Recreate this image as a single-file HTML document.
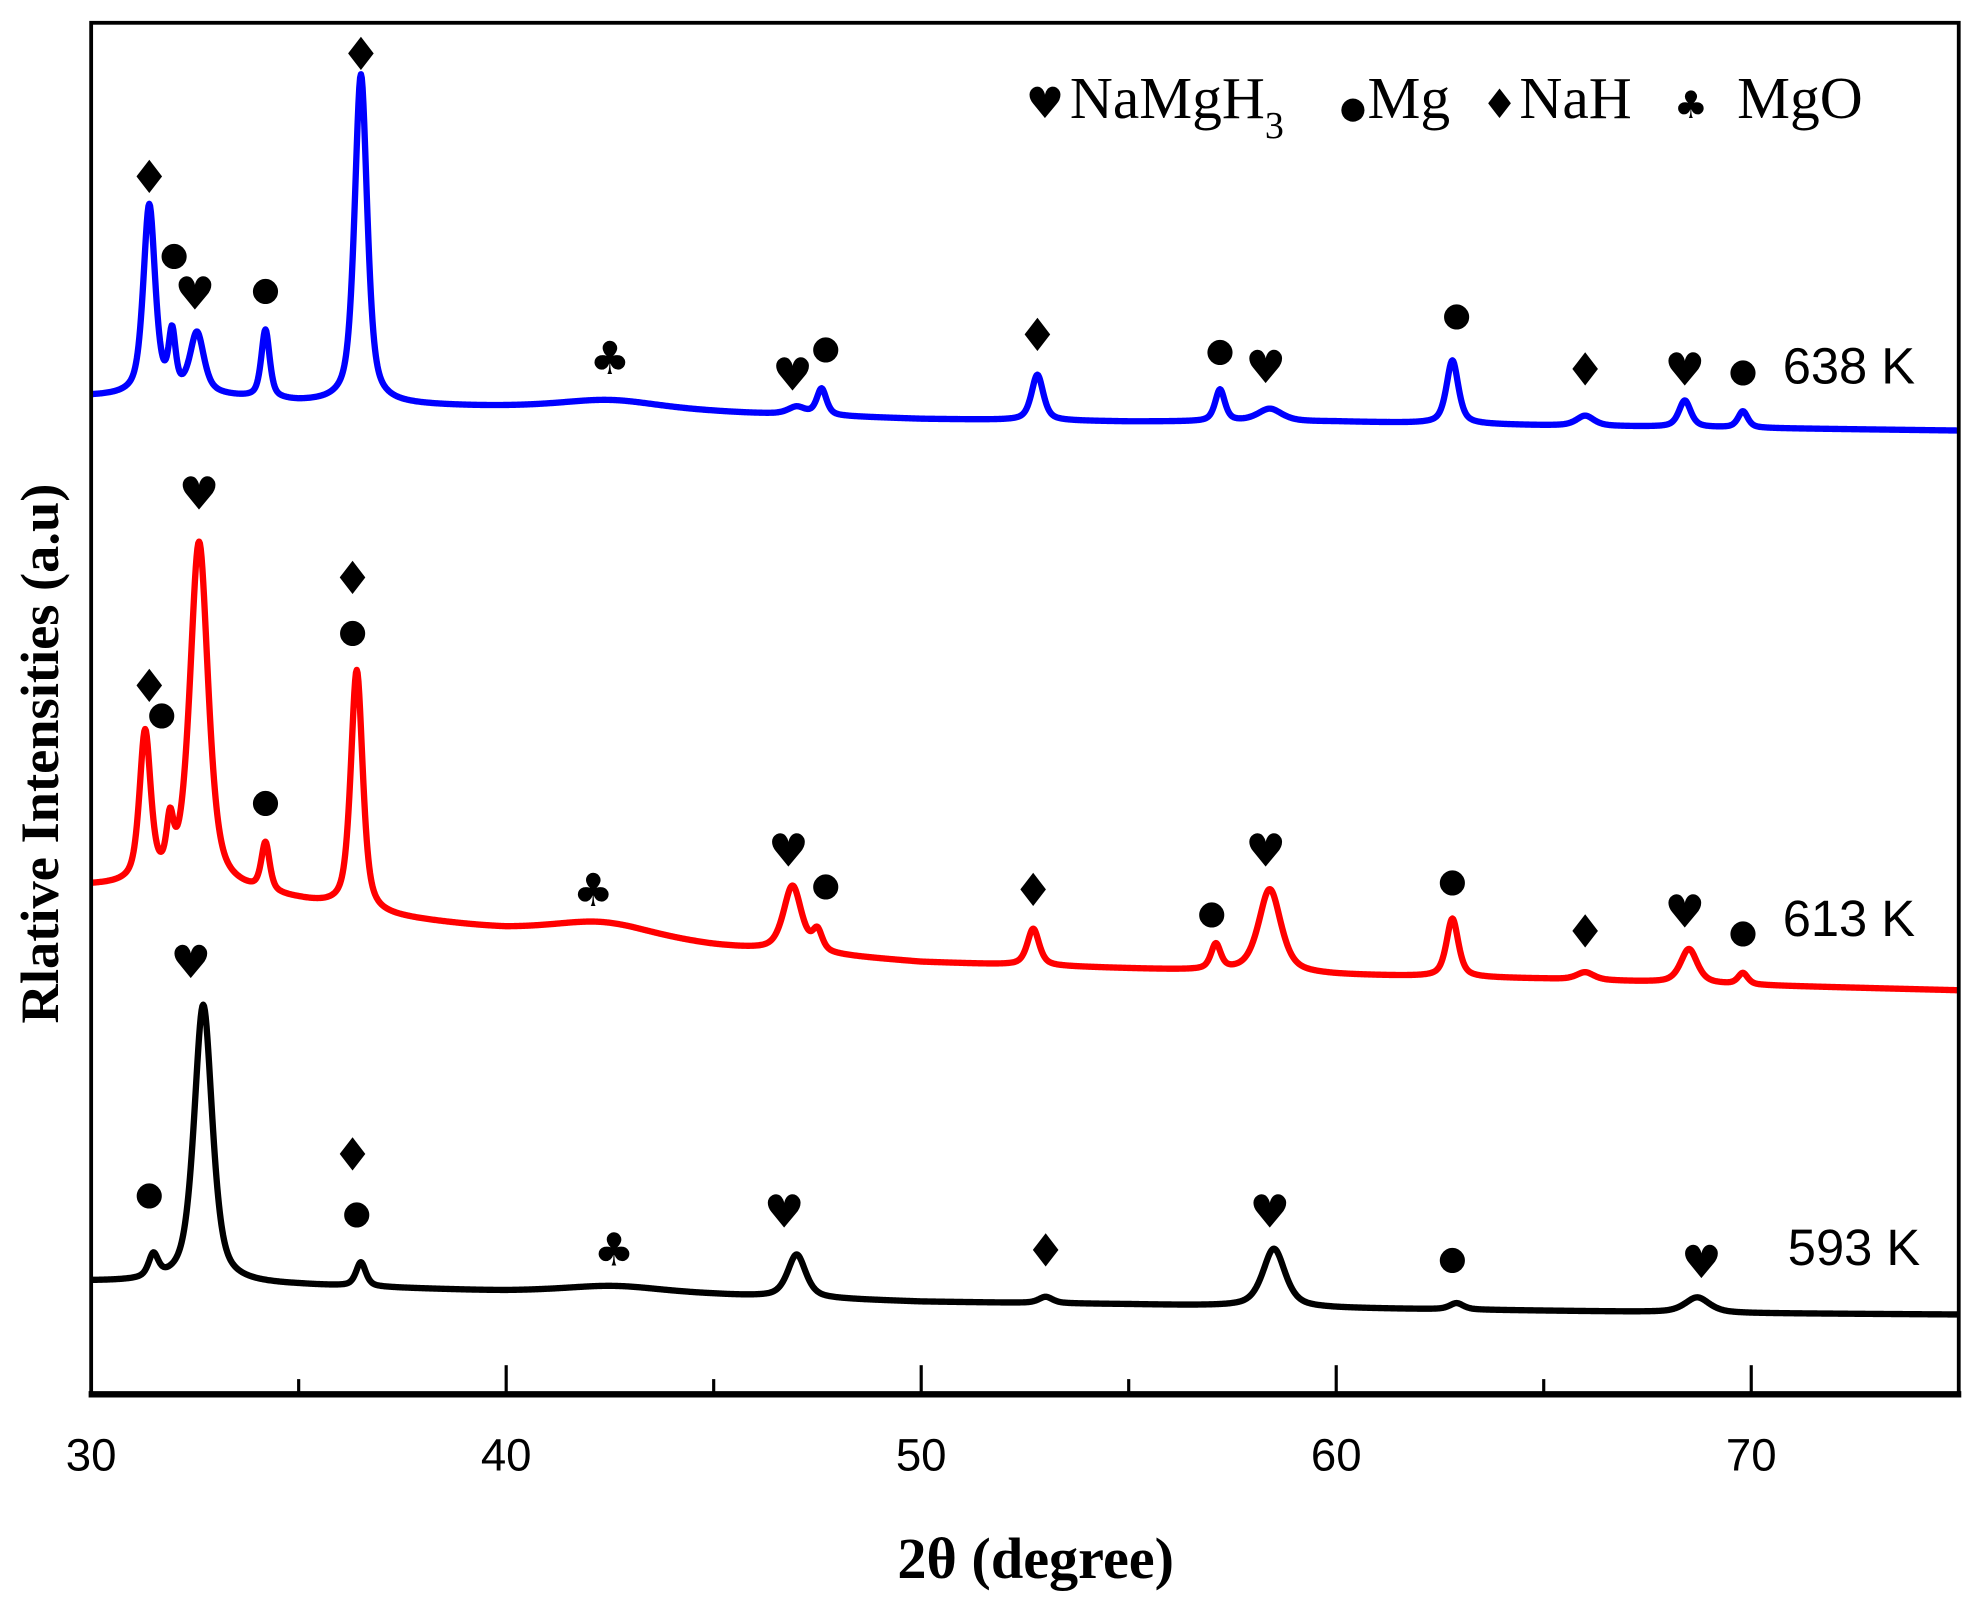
<!DOCTYPE html>
<html><head><meta charset="utf-8"><style>
html,body{margin:0;padding:0;background:#fff;}
svg{display:block;}
</style></head><body>
<svg id="chart" width="1979" height="1602" viewBox="0 0 1563 1265" preserveAspectRatio="none" xmlns="http://www.w3.org/2000/svg">
<g id="plot"></g>
<rect x="72" y="18" width="1475" height="1083" fill="none" stroke="#000" stroke-width="3"/>
<line x1="70" y1="1101" x2="1549" y2="1101" stroke="#000" stroke-width="5"/>
<g id="xticks"></g>
<text x="818" y="1246" text-anchor="middle" font-family="Liberation Serif, serif" font-weight="bold" font-size="46">2θ (degree)</text>
<text transform="translate(46,595) rotate(-90)" text-anchor="middle" font-family="Liberation Serif, serif" font-weight="bold" font-size="43">Rlative Intensities (a.u)</text>
<g font-family="Liberation Serif, DejaVu Sans, serif" font-size="47">
<text x="810" y="93"><tspan font-family="DejaVu Sans" font-size="34">♥</tspan><tspan x="845">NaMgH</tspan><tspan font-size="30" dy="16">3</tspan></text>
<text x="1058" y="93"><tspan font-family="DejaVu Sans" font-size="24">●</tspan><tspan x="1080">Mg</tspan></text>
<text x="1170" y="93"><tspan font-family="DejaVu Sans" font-size="32">♦</tspan><tspan x="1200">NaH</tspan></text>
<text x="1322" y="93"><tspan font-family="DejaVu Sans" font-size="30">♣</tspan><tspan x="1372">MgO</tspan></text>
</g>
<g font-family="Liberation Sans, sans-serif" font-size="40">
<text x="1408" y="303">638 K</text>
<text x="1408" y="739">613 K</text>
<text x="1412" y="999">593 K</text>
</g>
<g id="marks" font-family="DejaVu Sans, sans-serif"></g>
</svg>
<script>
// x tick data
const xTicks=[30,40,50,60,70];
const xMinor=[35,45,55,65];
// baselines: [2theta, intensity] (intensity = height above axis, display units)
const blueBaseX=[30,33,35,40,45,50,55,60,65,70,75];
const blueBaseY=[790,790,785,781,777,772,770,770,767,765,763];
const bluePeakPos=[31.4,31.95,32.55,34.2,36.5,42.5,47.0,47.6,52.8,57.2,58.4,62.8,66.0,68.4,69.8];
const bluePeakH=[150,45,48,54,260,8,6,21,36,25,10,50,8,21,13];
const bluePeakW=[0.17,0.1,0.2,0.12,0.18,1.5,0.25,0.14,0.17,0.14,0.35,0.17,0.25,0.17,0.14];
const redBaseX=[30,33,35,37,40,43,45,50,55,60,65,70,75];
const redBaseY=[403,401,391,379,368,361,355,343,338,333,330,325,321];
const redPeakPos=[31.3,31.9,32.6,34.2,36.4,42.3,46.9,47.5,52.7,57.1,58.4,62.8,66.0,68.5,69.8];
const redPeakH=[118,38,272,38,190,12,52,16,29,20,66,46,6,27,9];
const redPeakW=[0.16,0.1,0.26,0.12,0.17,1.5,0.26,0.14,0.17,0.14,0.32,0.17,0.25,0.24,0.14];
const blackBaseX=[30,35,40,45,50,55,60,65,70,75];
const blackBaseY=[91,88,83,80,75,73,70,68,66,65];
const blackPeakPos=[31.5,32.7,36.5,42.6,47.0,53.0,58.5,62.9,68.7];
const blackPeakH=[18,220,19,6,34,5,46,5,12];
const blackPeakW=[0.14,0.26,0.14,1.5,0.26,0.2,0.32,0.2,0.35];
// markers: symbol, 2theta, intensity level
const markSym=['♦','●','♥','●','♦','♣','♥','●','♦','●','♥','●','♦','♥','●',
 '♦','●','♥','●','♦','●','♣','♥','●','♦','●','♥','●','♦','♥','●',
 '●','♥','♦','●','♣','♥','♦','♥','●','♥'];
const markX=[31.4,32.0,32.5,34.2,36.5,42.5,46.9,47.7,52.8,57.2,58.3,62.9,66.0,68.4,69.8,
 31.4,31.7,32.6,34.2,36.3,36.3,42.1,46.8,47.7,52.7,57.0,58.3,62.8,66.0,68.4,69.8,
 31.4,32.4,36.3,36.4,42.6,46.7,53.0,58.4,62.8,68.8];
const markY=[963,903,871,875,1060,820,807,829,838,827,813,855,811,811,811,
 561,540,713,471,646,605,400,431,405,400,383,431,408,367,383,368,
 161,343,191,146,116,146,115,146,110,106];

const NS='http://www.w3.org/2000/svg';
const X0=30,X1=75,PX0=72,PX1=1547,AXY=1103;
function xs(v){return PX0+(v-X0)*(PX1-PX0)/(X1-X0);}
function ys(v){return AXY-v;}
function interp(xa,ya,x){
  for(let i=0;i<xa.length-1;i++){if(x<=xa[i+1]){const t=(x-xa[i])/(xa[i+1]-xa[i]);return ya[i]+t*(ya[i+1]-ya[i]);}}
  return ya[ya.length-1];
}
function series(bx,by,pp,ph,pw){
  const pts=[];
  for(let x=30;x<=75.0001;x+=0.02){
    let v=interp(bx,by,x);
    for(let i=0;i<pp.length;i++){const d=(x-pp[i])/pw[i];v+=ph[i]*(0.6/(1+d*d)+0.4*Math.exp(-0.693*d*d));}
    pts.push(xs(x).toFixed(2)+','+ys(v).toFixed(2));
  }
  return pts.join(' ');
}
const plot=document.getElementById('plot');
[['blue',blueBaseX,blueBaseY,bluePeakPos,bluePeakH,bluePeakW,'#0000ff'],
 ['red',redBaseX,redBaseY,redPeakPos,redPeakH,redPeakW,'#ff0000'],
 ['black',blackBaseX,blackBaseY,blackPeakPos,blackPeakH,blackPeakW,'#000000']].forEach(s=>{
  const p=document.createElementNS(NS,'polyline');
  
  
  p.setAttribute('points',series(s[1],s[2],s[3],s[4],s[5]));
  p.setAttribute('fill','none');p.setAttribute('stroke',s[6]);p.setAttribute('stroke-width','5');
  p.setAttribute('stroke-linejoin','round');
  plot.appendChild(p);
});
const xt=document.getElementById('xticks');
xTicks.forEach(v=>{
  const l=document.createElementNS(NS,'line');
  
  
  l.setAttribute('x1',xs(v));l.setAttribute('x2',xs(v));l.setAttribute('y1',1100);l.setAttribute('y2',1078);
  l.setAttribute('stroke','#000');l.setAttribute('stroke-width','2.5');xt.appendChild(l);
  const t=document.createElementNS(NS,'text');
  
  
  t.setAttribute('x',xs(v));t.setAttribute('y',1161);t.setAttribute('text-anchor','middle');
  t.setAttribute('font-family','Liberation Sans, sans-serif');t.setAttribute('font-size','36');
  t.textContent=v;xt.appendChild(t);
});
xMinor.forEach(v=>{
  const l=document.createElementNS(NS,'line');
  
  
  l.setAttribute('x1',xs(v));l.setAttribute('x2',xs(v));l.setAttribute('y1',1100);l.setAttribute('y2',1089);
  l.setAttribute('stroke','#000');l.setAttribute('stroke-width','2.5');xt.appendChild(l);
});
const mk=document.getElementById('marks');
markSym.forEach((s,i)=>{
  const t=document.createElementNS(NS,'text');
  
  
  t.setAttribute('x',xs(markX[i]));t.setAttribute('y',ys(markY[i]));
  t.setAttribute('text-anchor','middle');t.setAttribute('dominant-baseline','central');
  t.setAttribute('font-size',s==='●'?'26':'36');
  t.textContent=s;mk.appendChild(t);
});
</script>
</body></html>
